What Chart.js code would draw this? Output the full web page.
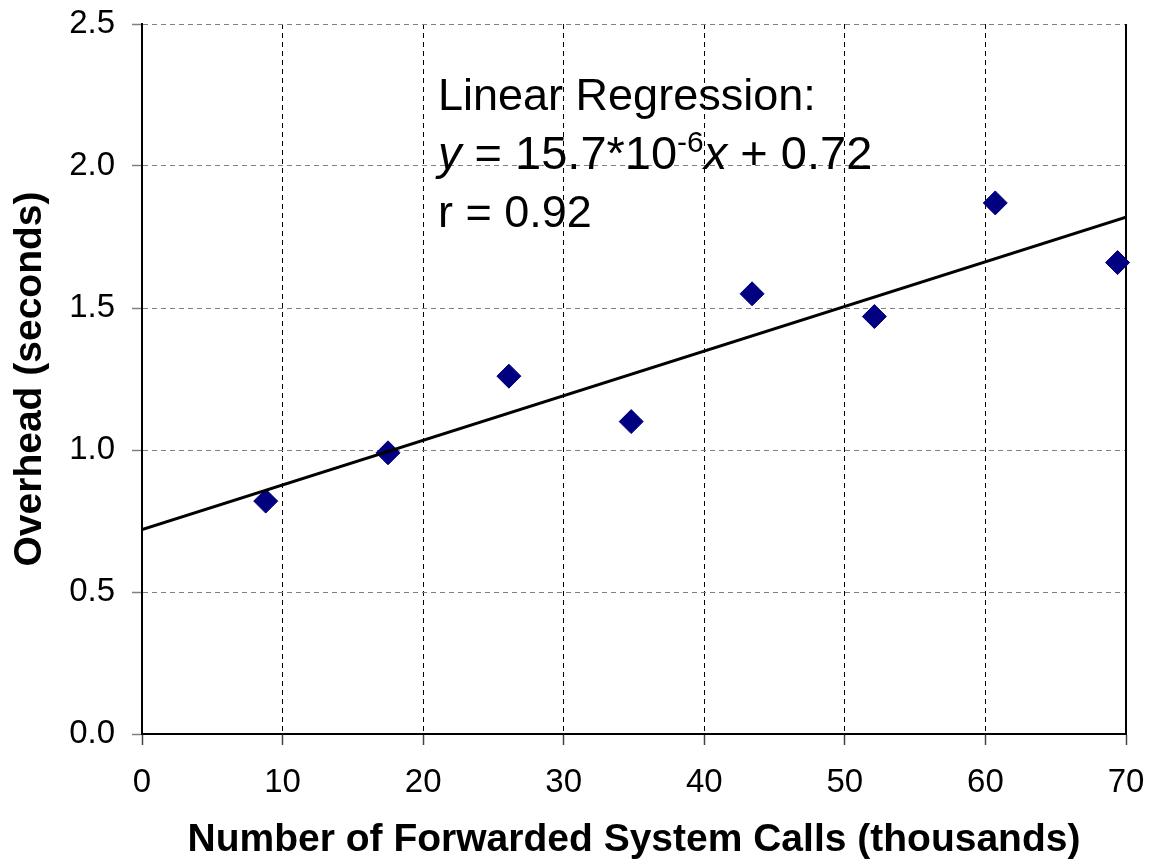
<!DOCTYPE html>
<html>
<head>
<meta charset="utf-8">
<script src="https://cdn.jsdelivr.net/npm/chart.js@4"></script>
<style>
  html, body { margin: 0; padding: 0; background: #fff; }
  #wrap { width: 1153px; height: 867px; position: relative; }
</style>
</head>
<body>
<div id="wrap"><canvas id="overhead_chart"></canvas></div>
<script>
// Forwarded system calls (thousands) vs. overhead (seconds)
const callsK = [8.8, 17.5, 26.1, 34.8, 43.4, 52.1, 60.7, 69.4];
const overhead = [0.82, 0.99, 1.26, 1.10, 1.55, 1.47, 1.87, 1.66];

// regression line end points
const fitX = [0, 70];
const fitY = [0.72, 1.82];

const annotationLines = ['Linear Regression:', 'r = 0.92'];

const fontFamily = '"Liberation Sans", Arial, sans-serif';
Chart.defaults.font.family = fontFamily;
Chart.defaults.color = '#000';

// right edge of the plot box is solid, like the left axis
const plotFrame = {
    id: 'plotFrame',
    beforeDatasetsDraw(chart) {
        const { ctx, chartArea: a } = chart;
        ctx.save();
        ctx.strokeStyle = '#000';
        ctx.lineWidth = 2;
        ctx.beginPath();
        ctx.moveTo(a.right, a.top);
        ctx.lineTo(a.right, a.bottom);
        ctx.stroke();
        ctx.restore();
    }
};

// text box with the regression equation
const regressionNote = {
    id: 'regressionNote',
    afterDraw(chart) {
        const { ctx } = chart;
        const left = 438;
        const big = '45px ' + fontFamily;
        const eq = '47px ' + fontFamily;
        const eqItalic = 'italic 47px ' + fontFamily;
        const small = '30px ' + fontFamily;
        ctx.save();
        ctx.fillStyle = '#000';
        ctx.textBaseline = 'alphabetic';
        ctx.textAlign = 'left';

        ctx.font = big;
        ctx.fillText(annotationLines[0], left, 110);

        // y = 15.7*10^-6 x + 0.72
        let x = left;
        const y2 = 169;
        const part = (txt, font, dy) => {
            ctx.font = font;
            ctx.fillText(txt, x, y2 + (dy || 0));
            x += ctx.measureText(txt).width;
        };
        part('y', eqItalic);
        part(' = 15.7*10', eq);
        part('-6', small, -17);
        part('x', eqItalic);
        part(' + 0.72', eq);

        ctx.font = big;
        ctx.fillText(annotationLines[1], left, 227);
        ctx.restore();
    }
};

const ctx = document.getElementById('overhead_chart').getContext('2d');

new Chart(ctx, {
    type: 'scatter',
    data: {
        datasets: [
            {
                label: 'Regression',
                type: 'line',
                data: fitX.map((v, i) => ({ x: v, y: fitY[i] })),
                borderColor: '#000',
                borderWidth: 3,
                pointRadius: 0,
                fill: false,
                order: 0
            },
            {
                label: 'Overhead',
                data: callsK.map((v, i) => ({ x: v, y: overhead[i] })),
                pointStyle: 'rectRot',
                pointRadius: 12,
                pointHoverRadius: 12,
                backgroundColor: '#000080',
                borderColor: '#000080',
                borderWidth: 1,
                clip: false,
                order: 1
            }
        ]
    },
    options: {
        responsive: true,
        maintainAspectRatio: false,
        animation: false,
        layout: {
            padding: { top: 24, right: 27, left: 0, bottom: 0 }
        },
        plugins: {
            legend: { display: false },
            tooltip: { enabled: false }
        },
        scales: {
            x: {
                type: 'linear',
                min: 0,
                max: 70,
                afterFit: (scale) => {
                    scale.height = 133;
                    scale.paddingLeft = 0;
                    scale.paddingRight = 0;
                },
                grid: {
                    color: '#000',
                    lineWidth: 1,
                    tickLength: 11,
                    tickColor: '#444',
                    tickWidth: 1.5
                },
                border: { color: '#000', width: 2, dash: [5, 4] },
                ticks: {
                    stepSize: 10,
                    padding: 18,
                    maxRotation: 0,
                    font: { size: 33 },
                    color: '#000'
                },
                title: {
                    display: true,
                    text: 'Number of Forwarded System Calls (thousands)',
                    font: { size: 39, weight: 'bold' },
                    padding: { top: 0, bottom: 3 },
                    color: '#000'
                }
            },
            y: {
                min: 0,
                max: 2.5,
                afterFit: (scale) => {
                    scale.width = 142;
                    scale.paddingTop = 0;
                    scale.paddingBottom = 0;
                },
                grid: {
                    color: '#808080',
                    lineWidth: 1,
                    tickLength: 10,
                    tickColor: '#808080',
                    tickWidth: 1.5
                },
                border: { color: '#000', width: 2, dash: [5, 4] },
                ticks: {
                    stepSize: 0.5,
                    padding: 17,
                    font: { size: 33 },
                    color: '#000',
                    callback: (v) => Number(v).toFixed(1)
                },
                title: {
                    display: true,
                    text: 'Overhead (seconds)',
                    font: { size: 39, weight: 'bold' },
                    padding: { top: 7, bottom: 0 },
                    color: '#000'
                }
            }
        }
    },
    plugins: [plotFrame, regressionNote]
});
</script>
</body>
</html>
